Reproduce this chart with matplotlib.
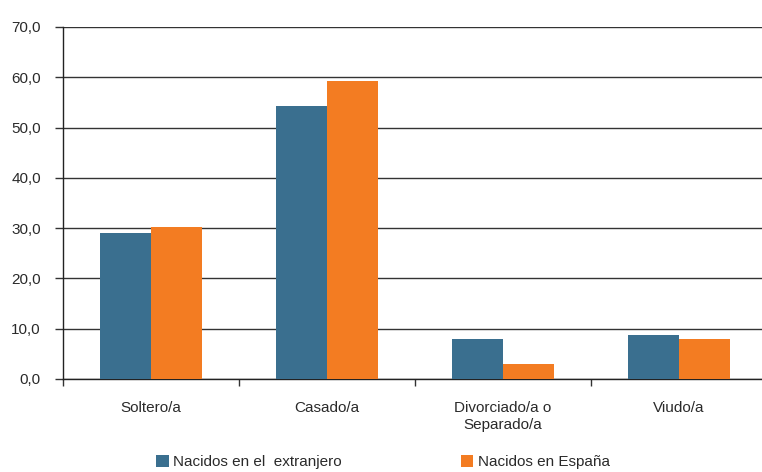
import matplotlib.pyplot as plt
import numpy as np

# Datos
categorias = ["Soltero/a", "Casado/a", "Divorciado/a o\nSeparado/a", "Viudo/a"]
extranjero = [29.1, 54.3, 7.9, 8.7]
espana = [30.2, 59.2, 3.0, 7.9]
series = ["Nacidos en el  extranjero", "Nacidos en España"]

plt.rcParams['font.family'] = ['Liberation Sans', 'DejaVu Sans']

azul = '#3a6f8f'
naranja = '#f37c22'

fig = plt.figure(figsize=(7.62, 4.72), dpi=100)
ax = fig.add_axes([63/762, 1 - 379/472, 704/762, 352/472])

x = np.arange(len(categorias))
ancho = 0.29
ax.bar(x - ancho/2, extranjero, width=ancho, color=azul, label=series[0], zorder=3)
ax.bar(x + ancho/2, espana, width=ancho, color=naranja, label=series[1], zorder=3)

ax.set_xlim(-0.5, len(categorias) - 0.5)
ax.set_ylim(0, 70)
ax.set_yticks(np.arange(0, 71, 10))
ax.set_yticklabels([f"{v:.1f}".replace('.', ',') for v in np.arange(0, 71, 10)], fontsize=11, color='#2a2a2a')
ax.yaxis.grid(True, color='#333333', linewidth=1.0, zorder=0)
ax.set_axisbelow(True)

# marcas entre categorias
ax.set_xticks(np.arange(-0.5, len(categorias), 1.0))
ax.set_xticklabels([])
ax.set_xticks(x, minor=True)
ax.set_xticklabels(categorias, minor=True, fontsize=11, color='#2a2a2a', linespacing=1.25)
ax.tick_params(axis='x', which='major', length=5, width=1, direction='out', color='#333333')
ax.tick_params(axis='x', which='minor', length=0, pad=16)
ax.tick_params(axis='y', length=6, width=1, direction='out', color='#333333', pad=10)

for s in ['top', 'right']:
    ax.spines[s].set_visible(False)
for s in ['left', 'bottom']:
    ax.spines[s].set_color('#222222')
    ax.spines[s].set_linewidth(1.0)

fig.legend(loc='center', bbox_to_anchor=(383/762, 1 - 462/472), ncol=2, frameon=False,
           fontsize=11, handlelength=0.8, handleheight=0.9, handletextpad=0.3,
           columnspacing=7.8, labelcolor='#2a2a2a')

fig.savefig('out.png', dpi=100)
